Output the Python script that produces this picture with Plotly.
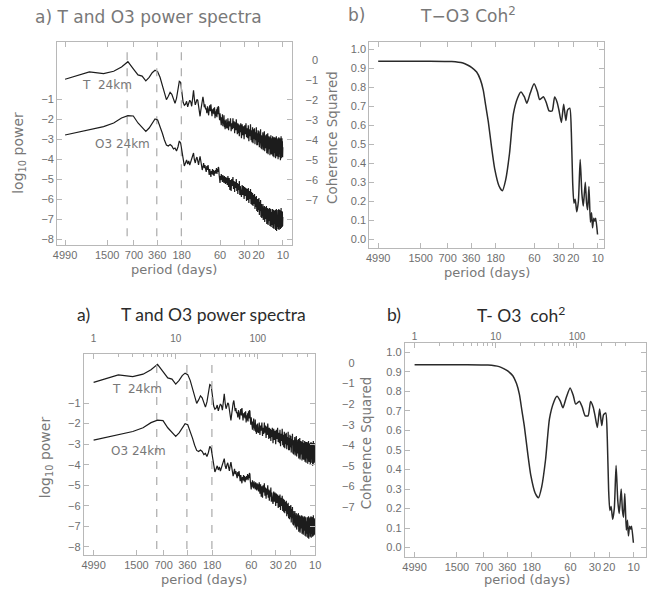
import plotly.graph_objects as go

W, H = 653, 590

# ---------------- data ----------------
N_DAYS = 4990                      # record length (days); harmonic k -> period N_DAYS/k
period_ticks = [4990, 1500, 700, 360, 180, 60, 30, 20, 10]
harmonic_ticks = [1, 10, 100]
harmonic_minor = [2, 3, 4, 5, 6, 7, 8, 9, 20, 30, 40, 50, 60, 70, 80, 90, 200, 300, 400]
dash_periods = [850, 365, 181]

power_left_ticks = [-8, -7, -6, -5, -4, -3, -2, -1]
power_left_text = ["\u22128", "\u22127", "\u22126", "\u22125", "\u22124", "\u22123", "\u22122", "\u22121"]
power_right_ticks = [-7, -6, -5, -4, -3, -2, -1, 0]
power_right_text = ["\u22127", "\u22126", "\u22125", "\u22124", "\u22123", "\u22122", "\u22121", "0"]
coh_ticks = [0.0, 0.1, 0.2, 0.3, 0.4, 0.5, 0.6, 0.7, 0.8, 0.9, 1.0]

k_spec = list(range(1, 101)) + list(range(102, 151, 2)) + list(range(153, 499, 3))

# log10 power of T (left axis)
T_power = [
    0.00, 0.37, 0.28, 0.40, 0.62, 0.88, 0.52, 0.22, 0.16, -0.08,
    0.10, 0.33, 0.45, 0.38, 0.10, -0.30, -0.70, -1.02, -0.85, -0.65,
    -0.75, -1.05, -1.20, -0.95, -0.50, -0.10, -0.15, -0.70, -1.15, -1.30,
    -1.25, -1.10, -1.38, -1.20, -1.05, -1.12, -1.35, -0.95, -0.55, -1.00,
    -1.28, -1.15, -1.00, -1.05, -1.35, -1.60, -1.85, -1.55, -1.20, -1.00,
    -0.88, -1.10, -1.40, -1.25, -1.50, -1.45, -1.70, -1.35, -1.55, -1.80,
    -1.45, -1.30, -1.60, -1.25, -1.55, -1.85, -1.50, -1.70, -1.45, -1.75,
    -1.40, -1.95, -1.60, -1.85, -1.50, -1.90, -1.40, -1.75, -1.35, -1.40,
    -1.80, -2.05, -1.70, -2.15, -1.85, -2.30, -1.90, -2.20, -1.75, -2.35,
    -2.00, -2.25, -1.80, -2.40, -2.05, -2.50, -2.10, -2.45, -2.00, -2.40,
    # k = 102 .. 150 step 2
    -2.45, -1.95, -2.55, -2.10, -2.35, -1.95, -2.60, -2.20, -2.50, -1.95,
    -2.45, -2.10, -2.70, -2.15, -2.55, -2.00, -2.40, -2.75, -2.20, -2.70,
    -2.25, -2.85, -2.30, -2.65, -2.20,
    # k = 153 .. 498 step 3
    -2.95, -2.25, -2.80, -2.35, -3.00, -2.30, -2.75, -2.20, -2.90, -2.45,
    -2.95, -2.30, -3.10, -2.50, -2.85, -2.25, -3.05, -2.55, -3.15, -2.40,
    -3.20, -2.50, -3.00, -2.45, -3.25, -2.65, -3.05, -2.40, -3.30, -2.70,
    -3.30, -2.55, -3.15, -2.60, -3.40, -2.75, -3.05, -2.50, -3.45, -2.80,
    -3.50, -2.70, -3.25, -2.65, -3.55, -2.85, -3.30, -2.60, -3.60, -2.90,
    -3.60, -2.80, -3.45, -2.75, -3.70, -2.95, -3.40, -2.70, -3.75, -3.00,
    -3.65, -2.85, -3.50, -2.90, -3.80, -3.05, -3.45, -2.80, -3.70, -3.00,
    -3.75, -2.95, -3.55, -2.85, -3.85, -3.10, -3.50, -2.90, -3.90, -3.05,
    -3.70, -2.90, -3.60, -3.00, -3.95, -3.10, -3.55, -2.85, -3.80, -3.15,
    -3.85, -3.00, -3.65, -2.95, -4.00, -3.20, -3.55, -2.90, -3.90, -3.10,
    -3.75, -2.95, -3.70, -3.05, -4.05, -3.15, -3.60, -2.85, -3.95, -3.20,
    -3.80, -2.95, -3.65, -3.10, -3.90, -3.40,
]

# log10 power of O3 (right axis)
O3_power = [
    -3.75, -3.50, -3.33, -3.15, -2.90, -2.78, -2.80, -3.15, -3.35, -3.57,
    -3.40, -3.15, -2.95, -3.00, -3.30, -3.65, -4.00, -4.25, -4.30, -4.23,
    -4.30, -4.45, -4.40, -4.55, -4.35, -4.05, -4.15, -4.60, -5.00, -5.30,
    -5.15, -5.00, -5.20, -5.05, -5.25, -5.10, -4.95, -4.70, -4.65, -5.00,
    -5.15, -4.95, -4.85, -5.05, -5.25, -5.00, -4.82, -5.05, -5.30, -5.50,
    -5.35, -5.15, -5.40, -5.25, -5.45, -5.60, -5.30, -5.50, -5.25, -5.55,
    -5.75, -5.45, -5.65, -5.85, -5.55, -5.70, -5.45, -5.75, -5.50, -5.80,
    -5.55, -5.70, -5.50, -5.65, -5.40, -5.70, -5.45, -5.60, -5.35, -5.40,
    -5.75, -5.95, -6.15, -5.80, -6.00, -5.70, -6.05, -5.80, -6.10, -5.75,
    -6.05, -5.85, -6.15, -5.80, -6.10, -5.90, -6.20, -5.85, -6.15, -5.90,
    # k = 102 .. 150 step 2
    -6.25, -5.80, -6.35, -5.90, -6.50, -6.00, -6.55, -5.95, -6.30, -5.85,
    -6.45, -6.05, -6.60, -6.10, -6.40, -5.95, -6.55, -6.15, -6.70, -6.20,
    -6.50, -6.05, -6.75, -6.30, -6.60,
    # k = 153 .. 498 step 3
    -6.85, -6.25, -6.75, -6.30, -6.95, -6.35, -6.80, -6.40, -7.05, -6.45,
    -7.00, -6.40, -7.15, -6.55, -6.95, -6.45, -7.20, -6.60, -7.25, -6.65,
    -7.30, -6.75, -7.20, -6.70, -7.45, -6.85, -7.35, -6.80, -7.55, -6.95,
    -7.60, -6.95, -7.50, -6.90, -7.75, -7.10, -7.55, -7.00, -7.85, -7.20,
    -7.90, -7.25, -7.80, -7.20, -8.00, -7.35, -7.85, -7.30, -8.10, -7.40,
    -8.05, -7.35, -7.95, -7.30, -8.20, -7.50, -8.00, -7.40, -8.25, -7.55,
    -8.15, -7.45, -8.05, -7.40, -8.30, -7.55, -8.10, -7.45, -8.35, -7.60,
    -8.25, -7.50, -8.15, -7.45, -8.40, -7.65, -8.20, -7.50, -8.45, -7.70,
    -8.30, -7.55, -8.20, -7.50, -8.50, -7.60, -8.25, -7.45, -8.55, -7.75,
    -8.35, -7.55, -8.25, -7.50, -8.45, -7.65, -8.30, -7.45, -8.50, -7.70,
    -8.30, -7.50, -8.20, -7.55, -8.45, -7.60, -8.25, -7.40, -8.40, -7.65,
    -8.25, -7.55, -8.35, -7.60, -8.30, -7.85,
]

coh_k = [1, 4, 8, 11, 12.5, 14, 16.2, 18, 19.5, 21, 22.5, 24.6, 27, 30.5, 33.5, 36.7,
         41, 45.8, 51.7, 56.7, 62.3, 67.1, 73.6, 82.3, 90.3, 96.3, 107, 116, 126, 137,
         147, 158, 166, 178, 190, 202, 212, 226, 236, 245, 254, 263, 275, 288, 303, 318,
         331, 350, 363, 374, 388, 405, 418, 430, 445, 460, 470, 495]
coh_sq = [0.937, 0.937, 0.935, 0.927, 0.917, 0.905, 0.88, 0.84, 0.786, 0.70, 0.62, 0.49,
          0.37, 0.28, 0.255, 0.31, 0.45, 0.66, 0.745, 0.775, 0.75, 0.716, 0.768, 0.818,
          0.777, 0.735, 0.75, 0.72, 0.675, 0.675, 0.748, 0.72, 0.68, 0.615, 0.71, 0.625,
          0.68, 0.69, 0.56, 0.30, 0.19, 0.21, 0.145, 0.20, 0.42, 0.24, 0.175, 0.30, 0.19,
          0.155, 0.277, 0.09, 0.14, 0.06, 0.11, 0.095, 0.11, 0.025]

# ---------------- styling helpers ----------------
HERSHEY = "DejaVu Sans"
TICKFONT = dict(family="Liberation Sans Narrow, Liberation Sans", size=11, color="#6e6e6e")
FRAME = "#b8b8b8"
TXT = "#787878"
LINE = "#1c1c1c"


def fx(p):
    return p / W


def fy(p):
    return 1 - p / H


period_k = [N_DAYS / p for p in period_ticks]
period_txt = [str(p) for p in period_ticks]
dash_k = [N_DAYS / p for p in dash_periods]

fig = go.Figure()

def spec_traces(xa, ya_left, ya_right, ylo, yhi):
    fig.add_trace(go.Scatter(x=k_spec, y=T_power, xaxis=xa, yaxis=ya_left, mode="lines",
                             line=dict(color=LINE, width=1.2), hoverinfo="skip"))
    fig.add_trace(go.Scatter(x=k_spec, y=O3_power, xaxis=xa, yaxis=ya_right, mode="lines",
                             line=dict(color=LINE, width=1.2), hoverinfo="skip"))
    for dk in dash_k:
        fig.add_trace(go.Scatter(x=[dk, dk], y=[ylo, yhi], xaxis=xa, yaxis=ya_left, mode="lines",
                                 line=dict(color="#b0b0b0", width=1.3, dash="8px,8px"),
                                 hoverinfo="skip"))

# top-left
spec_traces("x", "y", "y2", -7.85, 1.35)
# top-right
fig.add_trace(go.Scatter(x=coh_k, y=coh_sq, xaxis="x2", yaxis="y3", mode="lines",
                         line=dict(color="#2a2a2a", width=1.5, shape="spline", smoothing=0.6),
                         hoverinfo="skip"))
# bottom-left
spec_traces("x3", "y4", "y5", -8.1, 1.0)
fig.add_trace(go.Scatter(x=[10], y=[0], xaxis="x4", yaxis="y4", mode="markers",
                         marker=dict(opacity=0), hoverinfo="skip"))
# bottom-right
fig.add_trace(go.Scatter(x=coh_k, y=coh_sq, xaxis="x5", yaxis="y6", mode="lines",
                         line=dict(color="#2a2a2a", width=1.5, shape="spline", smoothing=0.6),
                         hoverinfo="skip"))
fig.add_trace(go.Scatter(x=[10], y=[0.5], xaxis="x6", yaxis="y6", mode="markers",
                         marker=dict(opacity=0), hoverinfo="skip"))


def xbottom(domain, rng, anchor, mirror="ticks"):
    return dict(domain=domain, range=rng, type="log", anchor=anchor,
                tickmode="array", tickvals=period_k, ticktext=period_txt, tickangle=0,
                ticks="inside", ticklen=5, tickcolor=FRAME, showline=True, linecolor=FRAME,
                linewidth=1, mirror=mirror, showgrid=False, zeroline=False, tickfont=TICKFONT)


def xtop(over, anchor, rng, standoff):
    return dict(overlaying=over, side="top", range=rng, type="log", anchor=anchor,
                tickmode="array", tickvals=harmonic_ticks, ticktext=[str(v) for v in harmonic_ticks],
                tickangle=0, ticks="inside", ticklen=5, tickcolor=FRAME, showline=False,
                showgrid=False, zeroline=False, tickfont=dict(TICKFONT, size=10),
                ticklabelstandoff=standoff,
                minor=dict(tickmode="array", tickvals=harmonic_minor, ticks="inside",
                           ticklen=3, tickcolor=FRAME))


def yleft(domain, rng, anchor, vals, txt):
    return dict(domain=domain, range=rng, anchor=anchor, tickmode="array", tickvals=vals,
                ticktext=txt, ticks="inside", ticklen=5, tickcolor=FRAME, showline=True,
                linecolor=FRAME, linewidth=1, mirror="ticks", showgrid=False, zeroline=False,
                tickfont=TICKFONT)


def yfree(over, rng, pos):
    return dict(overlaying=over, side="left", anchor="free", position=pos, range=rng,
                tickmode="array", tickvals=power_right_ticks, ticktext=power_right_text,
                ticks="", showline=False, showgrid=False, zeroline=False, tickfont=TICKFONT)


coh_txt = ["%.1f" % v for v in coh_ticks]

TL_X = [-0.098, 2.805]
TR_X = [-0.109, 2.77]
BL_X = [-0.12, 2.698]
BR_X = [-0.121, 2.85]

fig.update_layout(
    width=W, height=H, margin=dict(l=0, r=0, t=0, b=0),
    paper_bgcolor="white", plot_bgcolor="white", showlegend=False,
    xaxis=xbottom([fx(54), fx(292)], TL_X, "y"),
    yaxis=yleft([fy(245), fy(42)], [-8.285, 1.865], "x", power_left_ticks, power_left_text),
    yaxis2=yfree("y", [-9.25, 0.90], fx(319)),
    xaxis2=xbottom([fx(371), fx(609)], TR_X, "y3"),
    yaxis3=yleft([fy(248), fy(42)], [-0.046, 1.038], "x2", coh_ticks, coh_txt),
    xaxis3=xbottom([fx(81), fx(316)], BL_X, "y4", mirror=True),
    xaxis4=xtop("x3", "y4", BL_X, 9),
    yaxis4=yleft([fy(555), fy(354)], [-8.39, 1.382], "x3", power_left_ticks, power_left_text),
    yaxis5=yfree("y4", [-9.335, 0.437], fx(356)),
    xaxis5=xbottom([fx(407), fx(652)], BR_X, "y6", mirror=True),
    xaxis6=xtop("x5", "y6", BR_X, 0),
    yaxis6=yleft([fy(557), fy(343)], [-0.048, 1.048], "x5", coh_ticks, coh_txt),
)

ann = []


def text(s, x, y, size, color=TXT, family=HERSHEY, xanchor="left", angle=0):
    ann.append(dict(text=s, x=fx(x), y=fy(y), xref="paper", yref="paper", showarrow=False,
                    xanchor=xanchor, yanchor="middle", textangle=angle,
                    font=dict(family=family, size=size, color=color)))

# top row
text("a) T and O3 power spectra", 29, 17, 17)
text("b)", 347, 15, 17)
text("T\u2212O3 Coh<sup>2</sup>", 420, 15, 17)
text("log<sub>10</sub> power", 15, 153, 14, xanchor="center", angle=-90)
text("period (days)", 173, 269, 13, xanchor="center")
text("period (days)", 491, 272, 13, xanchor="center")
text("Coherence Squared", 333, 137, 13.5, xanchor="center", angle=-90)
text("T  24km", 77, 85, 12)
text("O3 24km", 90, 144, 12)
# bottom row
CAL = "Lato, Carlito, Open Sans"
text("a)", 72, 314, 17.5, color="#2b2b2b", family=CAL)
text("T and O3 power spectra", 117, 314, 17.5, color="#2b2b2b", family=CAL)
text("b)", 387, 314, 17.5, color="#2b2b2b", family=CAL)
text("T- O3  coh<sup>2</sup>", 478, 314, 17.5, color="#2b2b2b", family=CAL)
text("log<sub>10</sub> power", 43, 457, 14, xanchor="center", angle=-90)
text("period (days)", 203, 579, 13, xanchor="center")
text("period (days)", 531, 579, 13, xanchor="center")
text("Coherence Squared", 368, 443, 13.5, xanchor="center", angle=-90)
text("T  24km", 108, 389, 12)
text("O3 24km", 107, 451, 12)

fig.update_layout(annotations=ann)

fig.write_html("out.html")
